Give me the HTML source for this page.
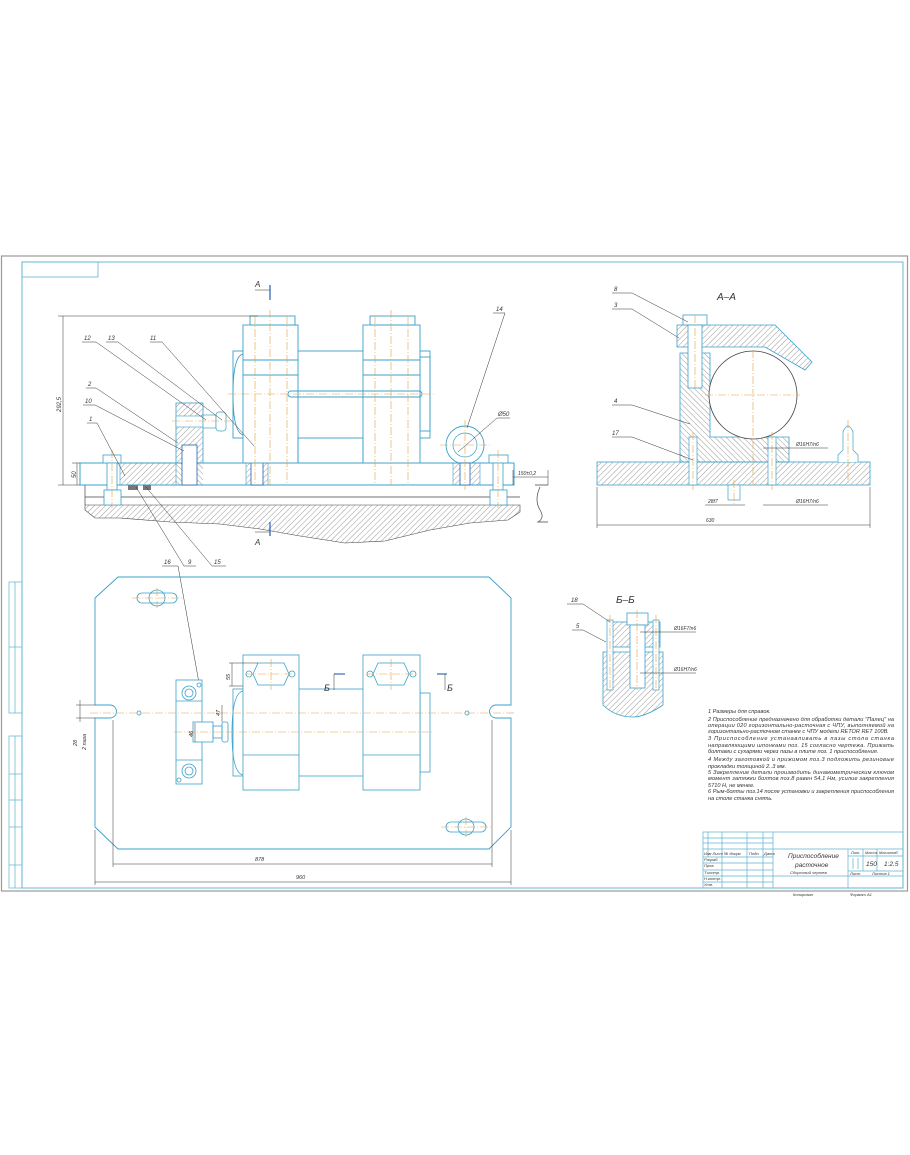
<!DOCTYPE html>
<html><head><meta charset="utf-8"><style>
html,body{margin:0;padding:0;background:#fff}
svg{display:block}
text{font-family:"Liberation Sans","DejaVu Sans",sans-serif;font-style:italic;fill:#333}
</style></head><body>
<svg width="910" height="1155" viewBox="0 0 910 1155" xmlns="http://www.w3.org/2000/svg">
<defs>
<pattern id="h" width="4" height="4" patternUnits="userSpaceOnUse" patternTransform="rotate(45)"><line x1="0" y1="0" x2="0" y2="4" stroke="#555" stroke-width="0.6"/></pattern>
<pattern id="h2" width="4" height="4" patternUnits="userSpaceOnUse" patternTransform="rotate(-45)"><line x1="0" y1="0" x2="0" y2="4" stroke="#555" stroke-width="0.6"/></pattern>
</defs>
<!-- frames -->
<rect x="1.5" y="256" width="906" height="635" fill="none" stroke="#999" stroke-width="1.2"/>
<rect x="22" y="262" width="881" height="626" fill="none" stroke="#5fb3d0" stroke-width="0.9"/>
<rect x="22" y="262" width="76" height="15" fill="none" stroke="#5fb3d0" stroke-width="0.8"/>
<g fill="none" stroke="#5fb3d0" stroke-width="0.7">
<rect x="9" y="582" width="13" height="131"/><line x1="9" y1="647" x2="22" y2="647"/><line x1="15" y1="582" x2="15" y2="713"/>
<rect x="9" y="736" width="13" height="152"/><line x1="15" y1="736" x2="15" y2="888"/>
<line x1="9" y1="774" x2="22" y2="774"/><line x1="9" y1="800" x2="22" y2="800"/><line x1="9" y1="827" x2="22" y2="827"/><line x1="9" y1="865" x2="22" y2="865"/>
</g>

<!-- ============ ELEVATION ============ -->
<g>
<!-- machine table hatch -->
<path d="M85,505 L520,505 L520,512 L508,520 L470,523 L430,530 L385,541 L345,543 L300,536 L260,529 L220,524 L170,522 L120,518 L95,518 L85,510 Z" fill="url(#h)" stroke="#444" stroke-width="0.6"/>
<line x1="85" y1="497" x2="520" y2="497" stroke="#444" stroke-width="0.7"/>
<line x1="85" y1="485" x2="85" y2="505" stroke="#444" stroke-width="0.7"/>
<path d="M535,485 L548,485 M540,487 Q534,500 540,510 Q545,518 538,522 L548,522" fill="none" stroke="#444" stroke-width="0.7"/>
<!-- base plate -->
<rect x="80" y="463" width="434" height="22" fill="none" stroke="#3aa0c8" stroke-width="1"/>
<rect x="120" y="463" width="56" height="22" fill="url(#h)" stroke="#3aa0c8" stroke-width="0.6"/>
<rect x="176" y="463" width="27" height="22" fill="url(#h2)" stroke="none"/>
<rect x="246" y="440" width="22" height="45" fill="url(#h)" stroke="#3aa0c8" stroke-width="0.6"/>
<rect x="453" y="463" width="27" height="22" fill="url(#h)" stroke="#3aa0c8" stroke-width="0.6"/>
<rect x="128" y="485" width="10" height="5" fill="#777"/><rect x="143" y="485" width="8" height="5" fill="#777"/>
<!-- stop block -->
<rect x="176" y="403" width="27" height="60" fill="url(#h)" stroke="#3aa0c8" stroke-width="0.8"/>
<rect x="176" y="416" width="27" height="11" fill="#fff" stroke="#3aa0c8" stroke-width="0.6"/>
<rect x="203" y="415" width="13" height="13" fill="#fff" stroke="#3aa0c8" stroke-width="0.7"/>
<rect x="216" y="412" width="10" height="19" rx="3" fill="#fff" stroke="#3aa0c8" stroke-width="0.7"/>
<rect x="182" y="445" width="15" height="40" fill="#fff" stroke="#2060b0" stroke-width="0.8"/>
<rect x="251" y="440" width="12" height="45" fill="#fff" stroke="#2060b0" stroke-width="0.8"/>
<!-- bolts -->
<g fill="#fff" stroke="#3aa0c8" stroke-width="0.8">
<rect x="103" y="455" width="18" height="8"/><rect x="107" y="463" width="10" height="27"/><rect x="104" y="490" width="17" height="15"/>
<rect x="489" y="455" width="19" height="8"/><rect x="493" y="463" width="10" height="27"/><rect x="490" y="490" width="17" height="15"/>
</g>
<!-- bushes -->
<g fill="none" stroke="#3aa0c8" stroke-width="0.9">
<rect x="233" y="351" width="197" height="87" fill="#fff"/>
<path d="M243,354 Q233,356 233,394 Q233,432 243,435"/><rect x="420" y="357" width="10" height="74"/>
<rect x="243" y="325" width="55" height="138" fill="#fff"/>
<rect x="363" y="325" width="57" height="138" fill="#fff"/>
<rect x="250" y="316" width="45" height="9"/><rect x="370" y="316" width="45" height="9"/>
<line x1="243" y1="360" x2="298" y2="360"/><line x1="243" y1="375" x2="298" y2="375"/>
<line x1="363" y1="360" x2="420" y2="360"/><line x1="363" y1="375" x2="420" y2="375"/>
<line x1="298" y1="438" x2="298" y2="463"/><line x1="363" y1="438" x2="363" y2="463"/>
<rect x="288" y="391" width="134" height="6" rx="3"/>
</g>
<!-- eye bolt -->
<circle cx="465" cy="445" r="19" fill="none" stroke="#3aa0c8" stroke-width="0.9"/>
<circle cx="465" cy="445" r="12" fill="none" stroke="#3aa0c8" stroke-width="0.7"/>
<rect x="460" y="463" width="10" height="22" fill="#fff" stroke="#2060b0" stroke-width="0.8"/>
<!-- center lines -->
<g stroke="#e8a040" stroke-width="0.6" stroke-dasharray="8,2,1,2">
<line x1="228" y1="394" x2="434" y2="394"/>
<line x1="270" y1="310" x2="270" y2="485"/><line x1="391" y1="310" x2="391" y2="485"/>
<line x1="255" y1="316" x2="255" y2="485"/><line x1="287" y1="316" x2="287" y2="485"/>
<line x1="375" y1="316" x2="375" y2="485"/><line x1="408" y1="316" x2="408" y2="485"/>
<line x1="112" y1="450" x2="112" y2="508"/><line x1="498" y1="450" x2="498" y2="508"/>
<line x1="440" y1="445" x2="490" y2="445"/><line x1="465" y1="420" x2="465" y2="490"/>
<line x1="172" y1="421" x2="232" y2="421"/>
</g>
<!-- dims and leaders -->
<g stroke="#333" stroke-width="0.5" fill="none">
<line x1="63" y1="316" x2="63" y2="485"/><line x1="58" y1="316" x2="258" y2="316"/><line x1="58" y1="485" x2="80" y2="485"/>
<line x1="77" y1="463" x2="77" y2="485"/><line x1="72" y1="463" x2="80" y2="463"/>
<line x1="513" y1="477" x2="548" y2="477"/><line x1="513" y1="470" x2="513" y2="485"/><line x1="548" y1="470" x2="548" y2="485"/>
<polyline points="82,342 96,342 206,420"/><polyline points="106,342 118,342 222,420"/><polyline points="150,342 162,342 254,446"/>
<polyline points="86,388 96,388 178,443"/><polyline points="83,405 95,405 184,451"/><polyline points="87,423 97,423 125,476"/>
<polyline points="493,313 505,313 467,428"/><polyline points="510,418 497,418 458,452"/>
<polyline points="255,290 270,290"/><line x1="270" y1="285" x2="270" y2="300" stroke="#2060b0" stroke-width="1.2"/>
<polyline points="255,532 270,532"/><line x1="270" y1="522" x2="270" y2="536" stroke="#2060b0" stroke-width="1.2"/>
<polyline points="136,487 184,566 196,566"/><polyline points="146,487 212,566 226,566"/><polyline points="162,566 178,566 199,683"/>
</g>
<g font-size="8">
<text x="255" y="287">A</text><text x="255" y="545">A</text>
</g>
<g font-size="6">
<text x="84" y="340">12</text><text x="108" y="340">13</text><text x="150" y="340">11</text>
<text x="88" y="386">2</text><text x="85" y="403">10</text><text x="89" y="421">1</text>
<text x="496" y="311">14</text><text x="498" y="416">Ø50</text>
<text x="518" y="475" font-size="5">150±0,2</text>
<text transform="translate(61,412) rotate(-90)">292,5</text>
<text transform="translate(76,478) rotate(-90)">50</text>
<text x="164" y="564">16</text><text x="188" y="564">9</text><text x="214" y="564">15</text>
</g>
</g>

<!-- ============ PLAN ============ -->
<g>
<path d="M95,598 L118,577 L489,577 L511,598 L511,705 L496,705 A6.5,6.5 0 0 0 496,718 L511,718 L511,827 L489,849 L118,849 L95,827 L95,718 L110,718 A6.5,6.5 0 0 0 110,705 L95,705 Z" fill="none" stroke="#3aa0c8" stroke-width="0.9"/>
<g fill="none" stroke="#3aa0c8" stroke-width="0.8">
<rect x="137" y="593" width="40" height="10" rx="5"/><circle cx="157" cy="598" r="8"/>
<rect x="446" y="822" width="40" height="10" rx="5"/><circle cx="466" cy="827" r="8"/>
<rect x="233" y="689" width="187" height="87" fill="#fff"/>
<path d="M243,691 Q232,693 232,733 Q232,773 243,775"/><rect x="420" y="693" width="10" height="79"/>
<rect x="243" y="655" width="56" height="135" fill="#fff"/><line x1="243" y1="755" x2="299" y2="755"/>
<rect x="363" y="655" width="57" height="135" fill="#fff"/><line x1="363" y1="755" x2="420" y2="755"/>
<polygon points="258,663 284,663 289,674 284,685 258,685 253,674"/>
<polygon points="378,663 404,663 409,674 404,685 378,685 373,674"/>
<circle cx="249" cy="674" r="3"/><circle cx="292" cy="674" r="3"/><circle cx="370" cy="674" r="3"/><circle cx="413" cy="674" r="3"/>
<rect x="176" y="680" width="26" height="104" fill="#fff"/>
<line x1="176" y1="701" x2="202" y2="701"/><line x1="176" y1="760" x2="202" y2="760"/>
<circle cx="189" cy="693" r="7"/><circle cx="189" cy="693" r="4"/><circle cx="189" cy="771" r="7"/><circle cx="189" cy="771" r="4"/>
<circle cx="199" cy="685" r="2"/><circle cx="179" cy="780" r="2"/>
<rect x="193" y="722" width="20" height="20" fill="#fff"/><rect x="213" y="726" width="9" height="12"/><rect x="222" y="722" width="6" height="20" rx="2"/>
<circle cx="139" cy="713" r="2"/><circle cx="467" cy="713" r="2"/>
</g>
<g stroke="#e8a040" stroke-width="0.6" stroke-dasharray="8,2,1,2">
<line x1="90" y1="713" x2="515" y2="713"/><line x1="174" y1="732" x2="432" y2="732"/>
<line x1="132" y1="598" x2="182" y2="598"/><line x1="157" y1="588" x2="157" y2="608"/>
<line x1="441" y1="827" x2="491" y2="827"/><line x1="466" y1="817" x2="466" y2="837"/>
<line x1="271" y1="659" x2="271" y2="690"/><line x1="391" y1="659" x2="391" y2="690"/>
<line x1="245" y1="674" x2="297" y2="674"/><line x1="366" y1="674" x2="418" y2="674"/>
</g>
<g stroke="#333" stroke-width="0.5" fill="none">
<line x1="113" y1="720" x2="113" y2="867"/><line x1="492" y1="720" x2="492" y2="867"/><line x1="113" y1="864" x2="492" y2="864"/>
<line x1="95" y1="830" x2="95" y2="885"/><line x1="511" y1="830" x2="511" y2="885"/><line x1="95" y1="882" x2="511" y2="882"/>
<line x1="80" y1="700" x2="80" y2="722"/><line x1="76" y1="705" x2="95" y2="705"/><line x1="76" y1="718" x2="95" y2="718"/>
<line x1="232" y1="663" x2="232" y2="686"/><line x1="229" y1="663" x2="258" y2="663"/><line x1="229" y1="686" x2="243" y2="686"/>
<line x1="195" y1="723" x2="195" y2="742"/><line x1="222" y1="705" x2="222" y2="722"/>
<line x1="334" y1="674" x2="345" y2="674" stroke="#2060b0" stroke-width="1.1"/><line x1="334" y1="674" x2="334" y2="690"/>
<line x1="437" y1="674" x2="447" y2="674" stroke="#2060b0" stroke-width="1.1"/><line x1="445" y1="674" x2="445" y2="690"/>
</g>
<g font-size="9"><text x="324" y="691" font-style="normal">Б</text><text x="447" y="691" font-style="normal">Б</text></g>
<g font-size="5.5">
<text x="255" y="861">878</text><text x="296" y="879">960</text>
<text transform="translate(230,680) rotate(-90)">55</text>
<text transform="translate(220,716) rotate(-90)">47</text>
<text transform="translate(193,737) rotate(-90)">46</text>
<text transform="translate(77,746) rotate(-90)">28</text>
<text transform="translate(86,750) rotate(-90)">2 паза</text>
</g>
</g>

<!-- ============ A-A ============ -->
<g>
<rect x="597" y="462" width="273" height="23" fill="url(#h)" stroke="#3aa0c8" stroke-width="0.8"/>
<polygon points="680,353 710,353 710,437 789,437 789,462 680,462" fill="url(#h2)" stroke="#3aa0c8" stroke-width="0.8"/>
<polygon points="677,325 775,325 812,362 805,370 765,347 677,347" fill="url(#h)" stroke="#3aa0c8" stroke-width="0.8"/>
<rect x="683" y="315" width="24" height="10" fill="#fff" stroke="#3aa0c8" stroke-width="0.8"/>
<rect x="688" y="325" width="14" height="63" fill="#fff" stroke="#3aa0c8" stroke-width="0.8"/>
<circle cx="753" cy="395" r="44" fill="#fff" stroke="#444" stroke-width="0.8"/>
<rect x="689" y="437" width="8" height="48" fill="#fff" stroke="#3aa0c8" stroke-width="0.7"/>
<rect x="768" y="437" width="8" height="48" fill="#fff" stroke="#3aa0c8" stroke-width="0.7"/>
<rect x="728" y="485" width="12" height="15" fill="#fff" stroke="#3aa0c8" stroke-width="0.7"/>
<path d="M838,462 L838,455 L843,450 L843,432 Q848,420 853,432 L853,450 L858,455 L858,462" fill="#fff" stroke="#3aa0c8" stroke-width="0.7"/>
<g stroke="#e8a040" stroke-width="0.6" stroke-dasharray="8,2,1,2">
<line x1="705" y1="395" x2="800" y2="395"/><line x1="753" y1="350" x2="753" y2="485"/>
<line x1="695" y1="315" x2="695" y2="390"/><line x1="693" y1="432" x2="693" y2="490"/><line x1="772" y1="432" x2="772" y2="490"/>
<line x1="734" y1="480" x2="734" y2="505"/><line x1="848" y1="420" x2="848" y2="485"/>
</g>
<g stroke="#333" stroke-width="0.5" fill="none">
<polyline points="612,293 632,293 688,322"/><polyline points="612,309 632,309 679,338"/>
<polyline points="612,405 632,405 690,424"/><polyline points="612,437 632,437 693,460"/>
<line x1="763" y1="448" x2="828" y2="448"/><line x1="763" y1="505" x2="828" y2="505"/><line x1="705" y1="505" x2="745" y2="505"/>
<line x1="597" y1="487" x2="597" y2="528"/><line x1="870" y1="487" x2="870" y2="528"/><line x1="597" y1="525" x2="870" y2="525"/>
</g>
<text x="717" y="300" font-size="10" font-style="normal">A–A</text>
<g font-size="6"><text x="614" y="291">8</text><text x="614" y="307">3</text><text x="614" y="403">4</text><text x="612" y="435">17</text>
<text x="796" y="446" font-size="5">Ø16H7/n6</text><text x="796" y="503" font-size="5">Ø16H7/n6</text><text x="708" y="503" font-size="5">28f7</text><text x="706" y="522" font-size="5">630</text></g>
</g>

<!-- ============ Б-Б ============ -->
<g>
<path d="M603,652 L663,652 L663,705 Q645,717 633,717 Q615,717 603,705 Z" fill="url(#h)" stroke="#3aa0c8" stroke-width="0.8"/>
<rect x="610" y="622" width="50" height="25" fill="url(#h)" stroke="#3aa0c8" stroke-width="0.8"/>
<rect x="627" y="613" width="21" height="12" fill="#fff" stroke="#3aa0c8" stroke-width="0.8"/>
<rect x="630" y="625" width="15" height="63" fill="#fff" stroke="#3aa0c8" stroke-width="0.8"/>
<rect x="607" y="620" width="6" height="70" fill="#fff" stroke="#3aa0c8" stroke-width="0.7"/>
<rect x="653" y="620" width="6" height="70" fill="#fff" stroke="#3aa0c8" stroke-width="0.7"/>
<g stroke="#e8a040" stroke-width="0.6" stroke-dasharray="8,2,1,2"><line x1="637" y1="610" x2="637" y2="690"/><line x1="610" y1="615" x2="610" y2="692"/><line x1="656" y1="615" x2="656" y2="692"/></g>
<g stroke="#333" stroke-width="0.5" fill="none"><polyline points="567,604 583,604 610,622"/><polyline points="572,630 583,630 606,642"/>
<line x1="640" y1="632" x2="696" y2="632"/><line x1="640" y1="673" x2="696" y2="673"/></g>
<text x="616" y="603" font-size="10" font-style="normal">Б–Б</text>
<g font-size="6"><text x="571" y="602">18</text><text x="576" y="628">5</text>
<text x="674" y="630" font-size="5">Ø16F7/n6</text><text x="674" y="671" font-size="5">Ø16H7/n6</text></g>
</g>

<!-- ============ NOTES ============ -->
<g font-size="5.6">
<text x="708" y="713">1 Размеры для справок.</text>
<text x="708" y="721" textLength="186">2 Приспособление предназначено для обработки детали "Палец" на</text>
<text x="708" y="727" textLength="186">операции 020 горизонтально-расточная с ЧПУ, выполняемой на</text>
<text x="708" y="733">горизонтально-расточном станке с ЧПУ модели RETOR RET 100B.</text>
<text x="708" y="740" textLength="186">3 Приспособление устанавливать в пазы стола станка</text>
<text x="708" y="747" textLength="186">направляющими шпонками поз. 15 согласно чертежа. Прижать</text>
<text x="708" y="753">болтами с сухарями через пазы в плите поз. 1 приспособления.</text>
<text x="708" y="761" textLength="186">4 Между заготовкой и прижимом поз.3 подложить резиновые</text>
<text x="708" y="768">прокладки толщиной 2..3 мм.</text>
<text x="708" y="774" textLength="186">5 Закрепление детали производить динамометрическим ключом</text>
<text x="708" y="780" textLength="186">момент затяжки болтов поз.8 равен 54,1 Нм, усилие закрепления</text>
<text x="708" y="787">5710 Н, не менее.</text>
<text x="708" y="793" textLength="186">6 Рым-болты поз.14 после установки и закрепления приспособления</text>
<text x="708" y="800">на столе станка снять.</text>
</g>

<!-- ============ TITLE BLOCK ============ -->
<g fill="none" stroke="#5fb3d0" stroke-width="0.7">
<rect x="703" y="832" width="200" height="56"/>
<line x1="703" y1="838" x2="773" y2="838"/><line x1="703" y1="843" x2="773" y2="843"/><line x1="703" y1="849" x2="903" y2="849"/>
<line x1="703" y1="857" x2="773" y2="857"/><line x1="703" y1="863" x2="773" y2="863"/><line x1="703" y1="870" x2="773" y2="870"/>
<line x1="703" y1="876" x2="903" y2="876"/><line x1="703" y1="882" x2="773" y2="882"/>
<line x1="708" y1="832" x2="708" y2="857"/><line x1="722" y1="832" x2="722" y2="888"/><line x1="747" y1="832" x2="747" y2="888"/>
<line x1="763" y1="832" x2="763" y2="888"/><line x1="773" y1="832" x2="773" y2="888"/><line x1="848" y1="849" x2="848" y2="888"/>
<line x1="863" y1="849" x2="863" y2="871"/><line x1="877" y1="849" x2="877" y2="871"/>
<line x1="848" y1="856" x2="903" y2="856"/><line x1="848" y1="871" x2="903" y2="871"/>
<line x1="853" y1="858" x2="853" y2="869"/><line x1="858" y1="858" x2="858" y2="869"/>
</g>
<g font-size="4">
<text x="704" y="855">Изм Лист</text><text x="724" y="855">№ докум.</text><text x="749" y="855">Подп.</text><text x="764" y="855">Дата</text>
<text x="704" y="861">Разраб.</text><text x="704" y="867">Пров.</text><text x="704" y="874">Т.контр.</text><text x="704" y="880">Н.контр.</text><text x="704" y="886">Утв.</text>
<text x="851" y="854">Лит.</text><text x="865" y="854">Масса</text><text x="879" y="854">Масштаб</text>
<text x="850" y="875">Лист</text><text x="872" y="875">Листов 1</text>
<text x="793" y="896">Копировал</text><text x="850" y="896">Формат А1</text>
<text x="790" y="874">Сборочный чертеж</text>
</g>
<g font-size="6.5"><text x="788" y="858">Приспособление</text><text x="795" y="867">расточное</text>
<text x="866" y="866">150</text><text x="884" y="866">1:2.5</text></g>
</svg>
</body></html>
